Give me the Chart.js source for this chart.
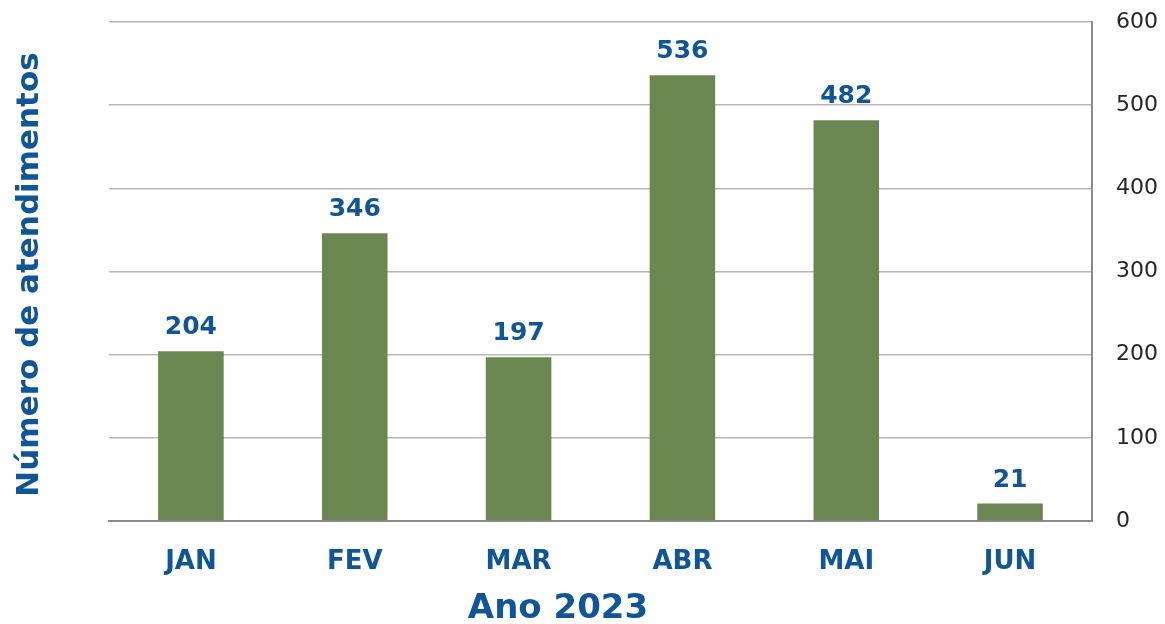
<!DOCTYPE html>
<html>
<head>
<meta charset="utf-8">
<script src="https://cdn.jsdelivr.net/npm/chart.js@4/dist/chart.umd.min.js"></script>
<style>
  html, body { margin: 0; padding: 0; background: #fff; }
  #wrap { width: 1165px; height: 624px; }
</style>
</head>
<body>
<div id="wrap"><canvas id="c" width="1165" height="624"></canvas></div>
<script>
// ── Data ─────────────────────────────────────────────────────────
const months = ["JAN", "FEV", "MAR", "ABR", "MAI", "JUN"];
const atendimentos = [204, 346, 197, 536, 482, 21];
const yTitle = "Número de atendimentos";
const xTitle = "Ano 2023";

const BLUE = "#0f5598";
const GREEN = "#6a8752";
const FONT = "'DejaVu Sans', sans-serif";

// ── Value labels above bars + outer titles ───────────────────────
const labelsPlugin = {
  id: "labels",
  afterDatasetsDraw(chart) {
    const ctx = chart.ctx;
    const meta = chart.getDatasetMeta(0);
    ctx.save();
    ctx.fillStyle = BLUE;
    ctx.font = "bold 25px " + FONT;
    ctx.textAlign = "center";
    ctx.textBaseline = "alphabetic";
    meta.data.forEach((bar, i) => {
      ctx.fillText(String(atendimentos[i]), bar.x, bar.y - 17);
    });
    ctx.restore();
  },
  afterDraw(chart) {
    const ctx = chart.ctx;
    const area = chart.chartArea;
    ctx.save();
    ctx.fillStyle = BLUE;
    // x title
    ctx.font = "bold 34px " + FONT;
    ctx.textAlign = "center";
    ctx.textBaseline = "alphabetic";
    ctx.fillText(xTitle, 558, 618);
    // y title (rotated, left side)
    ctx.translate(38, (area.top + area.bottom) / 2 + 3);
    ctx.rotate(-Math.PI / 2);
    ctx.font = "bold 31px " + FONT;
    ctx.fillText(yTitle, 0, 0);
    ctx.restore();
  }
};

new Chart(document.getElementById("c"), {
  type: "bar",
  data: {
    labels: months,
    datasets: [{
      data: atendimentos,
      backgroundColor: GREEN,
      barPercentage: 0.4,
      categoryPercentage: 1.0,
    }],
  },
  options: {
    responsive: false,
    animation: false,
    layout: { padding: { left: 109, top: 22, right: 0, bottom: 0 } },
    plugins: {
      legend: { display: false },
      tooltip: { enabled: false },
    },
    scales: {
      x: {
        grid: { display: false },
        border: { display: true, color: "#8a8a8a", width: 2 },
        ticks: {
          color: BLUE,
          font: { family: FONT, size: 26, weight: "bold" },
          padding: 18,
        },
        afterFit(scale) {
          scale.height = 103;
          scale.paddingLeft = 0;
          scale.paddingRight = 0;
        },
      },
      y: {
        position: "right",
        min: 0,
        max: 600,
        ticks: {
          stepSize: 100,
          color: "#262626",
          font: { family: FONT, size: 22 },
          padding: 24,
        },
        grid: { color: "#b8b8b8", lineWidth: 1.5, drawTicks: false },
        border: { display: true, color: "#8a8a8a", width: 2 },
        afterFit(scale) {
          scale.width = 73;
          scale.paddingTop = 0;
          scale.paddingBottom = 0;
        },
      },
    },
  },
  plugins: [labelsPlugin],
});
</script>
</body>
</html>
